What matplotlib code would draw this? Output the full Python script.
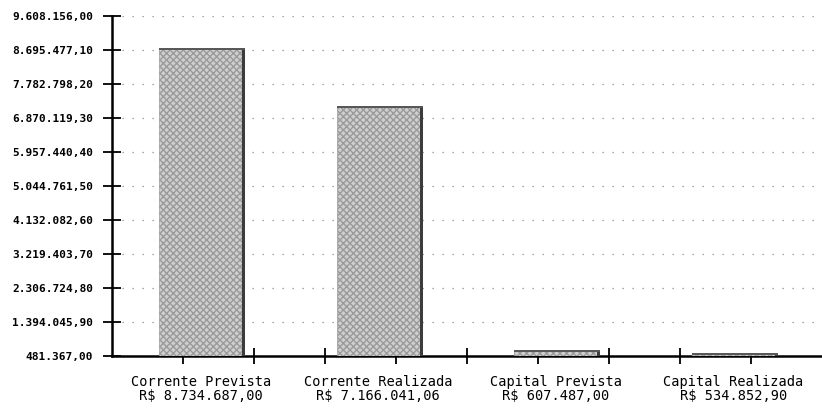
import matplotlib
matplotlib.use('Agg')
import matplotlib.pyplot as plt
from matplotlib.ticker import FixedLocator

# Dados
categorias = ['Corrente Prevista', 'Corrente Realizada', 'Capital Prevista', 'Capital Realizada']
rotulos_valor = ['R$ 8.734.687,00', 'R$ 7.166.041,06', 'R$ 607.487,00', 'R$ 534.852,90']
valores = [8734687.00, 7166041.06, 607487.00, 534852.90]

y_ticks = [481367.00, 1394045.90, 2306724.80, 3219403.70, 4132082.60, 5044761.50,
           5957440.40, 6870119.30, 7782798.20, 8695477.10, 9608156.00]
y_labels = ['481.367,00', '1.394.045,90', '2.306.724,80', '3.219.403,70', '4.132.082,60',
            '5.044.761,50', '5.957.440,40', '6.870.119,30', '7.782.798,20', '8.695.477,10',
            '9.608.156,00']

base = y_ticks[0]
topo = y_ticks[-1]

fig = plt.figure(figsize=(8.22, 4.08), dpi=100)
ax = fig.add_axes([112 / 822, 52 / 408, 710 / 822, 340 / 408])
ax.set_xlim(0, 4)
ax.set_ylim(base, topo)

# barras com efeito 3D simples
pos = [i + 0.5 for i in range(len(valores))]
alturas = [v - base for v in valores]
largura = 0.47
ax.bar(pos, alturas, bottom=base, width=largura, color='#cfcfcf',
       edgecolor='#9a9a9a', hatch='xxxxx', linewidth=0.5, zorder=3)
# lateral escura
ax.bar([p + largura / 2 + 0.008 for p in pos], alturas, bottom=base, width=0.018,
       color='#3c3c3c', linewidth=0, zorder=3)
# borda superior
for p, v in zip(pos, valores):
    ax.plot([p - largura / 2, p + largura / 2 + 0.017], [v, v], color='#555555',
            lw=1.4, zorder=4, solid_capstyle='butt')

# eixos
for s in ['top', 'right']:
    ax.spines[s].set_visible(False)
ax.spines['left'].set_linewidth(1.8)
ax.spines['bottom'].set_linewidth(1.8)

ax.yaxis.set_major_locator(FixedLocator(y_ticks))
ax.set_yticklabels(y_labels, family='DejaVu Sans Mono', fontsize=8, fontweight='bold')
ax.tick_params(axis='y', direction='inout', length=13, width=1.3, pad=7)

ax.xaxis.set_major_locator(FixedLocator([0.8, 1.2, 2.0, 2.8, 3.2]))
ax.xaxis.set_minor_locator(FixedLocator([0.4, 1.6, 2.4, 3.6]))
ax.set_xticklabels([])
ax.tick_params(axis='x', which='major', direction='inout', length=12, width=1.3)
ax.tick_params(axis='x', which='minor', direction='out', length=6, width=1.3)

ax.grid(axis='y', color='#8a8a8a', linestyle=(0, (1, 7)), linewidth=0.9, zorder=0)
ax.set_axisbelow(True)

# rotulos das categorias
for p, c, r in zip(pos, categorias, rotulos_valor):
    ax.text(p, -0.055, c + '\n' + r, transform=ax.get_xaxis_transform(),
            ha='center', va='top', family='DejaVu Sans Mono', fontsize=9.8,
            linespacing=1.05)

fig.savefig('out.png', dpi=100)
